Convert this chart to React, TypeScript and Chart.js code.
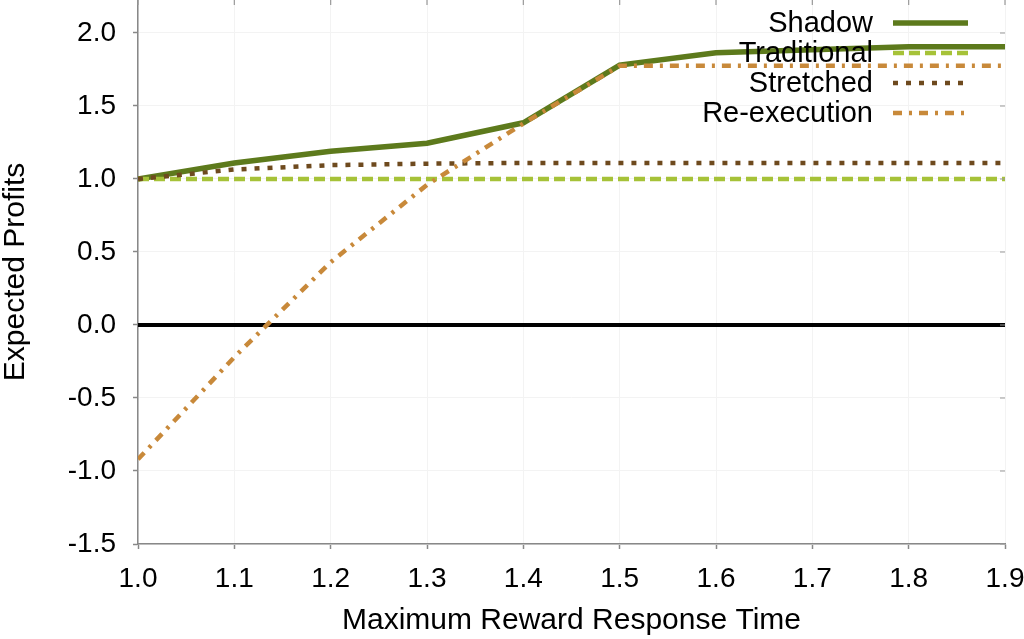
import React, { useEffect, useRef } from "react";
import { Chart, registerables } from "chart.js";

Chart.register(...registerables);

const xValues = [1.0, 1.1, 1.2, 1.3, 1.4, 1.5, 1.6, 1.7, 1.8, 1.9];
const shadow = [1.0, 1.11, 1.19, 1.245, 1.385, 1.78, 1.865, 1.885, 1.905, 1.905];
const traditional = [1.0, 1.0, 1.0, 1.0, 1.0, 1.0, 1.0, 1.0, 1.0, 1.0];
const stretched = [1.0, 1.065, 1.095, 1.105, 1.11, 1.11, 1.11, 1.11, 1.11, 1.11];
const reExecution = [-0.92, -0.22, 0.43, 0.96, 1.38, 1.776, 1.776, 1.776, 1.776, 1.776];
const zeroLine = [0, 0, 0, 0, 0, 0, 0, 0, 0, 0];
const seriesLabels = ["Shadow", "Traditional", "Stretched", "Re-execution"];

const FONT = "'Liberation Sans', Arial, sans-serif";

const toPoints = (ys: number[]) => xValues.map((x, i) => ({ x, y: ys[i] }));

const legendPlugin = {
  id: "customLegend",
  afterDraw(chart: any) {
    const ctx = chart.ctx;
    ctx.save();
    let row = 0;
    chart.data.datasets.forEach((ds: any) => {
      if (!ds.showInLegend) return;
      const y = 23 + row * 30;
      ctx.font = `29px ${FONT}`;
      ctx.fillStyle = "#000";
      ctx.textAlign = "right";
      ctx.textBaseline = "middle";
      ctx.fillText(ds.label, 873, y + 1);
      ctx.beginPath();
      ctx.strokeStyle = ds.borderColor;
      ctx.lineWidth = ds.borderWidth;
      ctx.setLineDash(ds.borderDash || []);
      ctx.moveTo(893, y);
      ctx.lineTo(968, y);
      ctx.stroke();
      row++;
    });
    ctx.restore();
  },
};

const mirrorTicksPlugin = {
  id: "mirrorTicks",
  afterDraw(chart: any) {
    const ctx = chart.ctx;
    const { top, right } = chart.chartArea;
    const xs = chart.scales.x;
    const ys = chart.scales.y;
    ctx.save();
    ctx.strokeStyle = "#999";
    ctx.lineWidth = 1.2;
    ctx.beginPath();
    xs.ticks.forEach((t: any) => {
      const px = xs.getPixelForValue(t.value);
      ctx.moveTo(px, top);
      ctx.lineTo(px, top + 5);
    });
    ys.ticks.forEach((t: any) => {
      const py = ys.getPixelForValue(t.value);
      ctx.moveTo(right, py);
      ctx.lineTo(right - 5, py);
    });
    ctx.stroke();
    ctx.restore();
  },
};

export default function App() {
  const canvasRef = useRef<HTMLCanvasElement | null>(null);

  useEffect(() => {
    document.body.style.margin = "0";
    const canvas = canvasRef.current;
    if (!canvas) return;
    const chart = new Chart(canvas, {
      type: "line",
      data: {
        datasets: [
          {
            label: seriesLabels[0],
            data: toPoints(shadow),
            borderColor: "#5d7a1c",
            borderWidth: 5.5,
            pointRadius: 0,
            order: 4,
            showInLegend: true,
          } as any,
          {
            label: seriesLabels[1],
            data: toPoints(traditional),
            borderColor: "#a6c238",
            borderWidth: 4.5,
            borderDash: [11, 5],
            pointRadius: 0,
            order: 3,
            showInLegend: true,
          } as any,
          {
            label: seriesLabels[2],
            data: toPoints(stretched),
            borderColor: "#6e4a1e",
            borderWidth: 4.5,
            borderDash: [5, 8],
            pointRadius: 0,
            order: 2,
            showInLegend: true,
          } as any,
          {
            label: seriesLabels[3],
            data: toPoints(reExecution),
            borderColor: "#c8893a",
            borderWidth: 4.5,
            borderDash: [9, 7, 3, 7],
            pointRadius: 0,
            order: 1,
            showInLegend: true,
          } as any,
          {
            label: "zero",
            data: toPoints(zeroLine),
            borderColor: "#000",
            borderWidth: 4,
            pointRadius: 0,
            order: 10,
            showInLegend: false,
          } as any,
        ],
      },
      options: {
        animation: false,
        responsive: false,
        devicePixelRatio: 1,
        layout: { padding: { top: 0, right: 19, left: 0, bottom: 0 } },
        plugins: {
          legend: { display: false },
          tooltip: { enabled: false },
        },
        scales: {
          x: {
            type: "linear",
            min: 1.0,
            max: 1.9,
            ticks: {
              stepSize: 0.1,
              color: "#000",
              font: { family: FONT, size: 28 },
              padding: 13,
              maxRotation: 0,
              autoSkip: false,
              callback: (v: any) => Number(v).toFixed(1),
            },
            grid: {
              color: "#f3f3f3",
              lineWidth: 1,
              tickColor: "#888",
              tickLength: 5,
              tickWidth: 1.5,
            },
            border: { color: "#888", width: 1.5 },
            title: {
              display: true,
              text: "Maximum Reward Response Time",
              color: "#000",
              font: { family: FONT, size: 30 },
              padding: 0,
            },
            afterFit: (scale: any) => {
              scale.height = 95;
              scale.paddingLeft = 0;
              scale.paddingRight = 0;
            },
          },
          y: {
            type: "linear",
            min: -1.5,
            max: 2.226,
            ticks: {
              stepSize: 0.5,
              includeBounds: false,
              color: "#000",
              font: { family: FONT, size: 28 },
              padding: 17,
              callback: (v: any) => Number(v).toFixed(1),
            },
            grid: {
              color: "#f3f3f3",
              lineWidth: 1,
              tickColor: "#888",
              tickLength: 5,
              tickWidth: 1.5,
            },
            border: { color: "#888", width: 1.5 },
            title: {
              display: true,
              text: "Expected Profits",
              color: "#000",
              font: { family: FONT, size: 30 },
              padding: { top: -2, bottom: 0 },
            },
            afterFit: (scale: any) => {
              scale.width = 138;
              scale.paddingTop = 0;
              scale.paddingBottom = 0;
            },
          },
        },
      } as any,
      plugins: [legendPlugin, mirrorTicksPlugin],
    });
    return () => chart.destroy();
  }, []);

  return (
    <div style={{ position: "absolute", left: 0, top: 0, width: 1024, height: 639, background: "#fff" }}>
      <canvas ref={canvasRef} width={1024} height={639} style={{ width: 1024, height: 639 }} />
    </div>
  );
}
